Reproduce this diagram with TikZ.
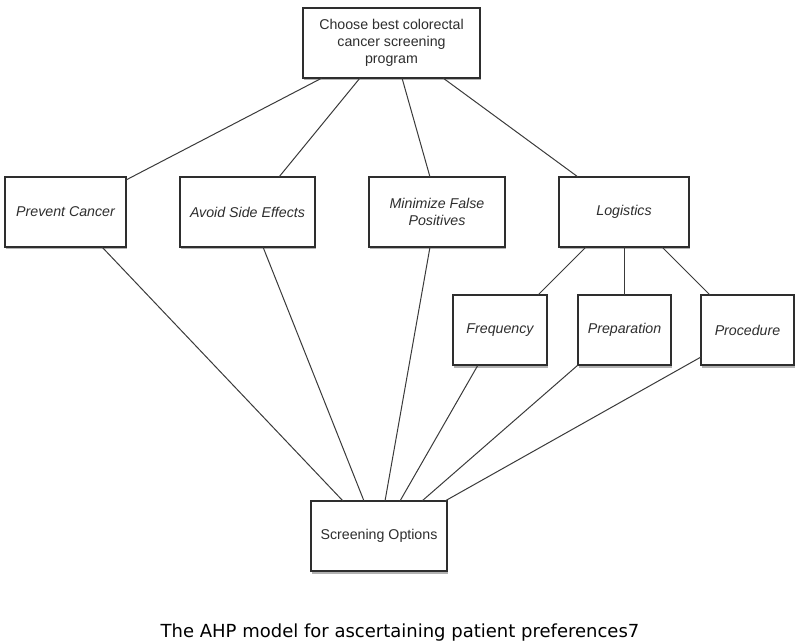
\documentclass[tikz,border=0pt]{standalone}
\usepackage{fontspec}
\setmainfont{Liberation Sans}
\newfontfamily\capfont{DejaVu Sans}
\usetikzlibrary{shadows}
\definecolor{ink}{HTML}{2E2E2E}
\definecolor{edge}{HTML}{3A3A3A}
\tikzset{
  box/.style={draw=ink, fill=white, line width=1.1pt, anchor=north west,
    inner sep=0pt, outer sep=0pt, align=center, text=ink,
    font=\fontsize{14.2}{17}\selectfont,
    drop shadow={shadow xshift=1pt, shadow yshift=-2.5pt, fill=black!55, opacity=0.55}},
  ibox/.style={box, font=\fontsize{14.2}{17}\selectfont\itshape},
  link/.style={draw=edge, line width=1pt},
}
\begin{document}
\begin{tikzpicture}[x=1pt,y=-1pt]
\useasboundingbox (0,0) rectangle (800,644);
% nodes
\node[box, minimum width=177pt, minimum height=70pt] (top) at (303,8) {Choose best colorectal\\cancer screening\\program};
\node[ibox, minimum width=121pt, minimum height=70pt] (prevent) at (5,177) {Prevent Cancer};
\node[ibox, minimum width=135pt, minimum height=70pt] (avoid) at (180,177) {Avoid Side Effects};
\node[ibox, minimum width=136pt, minimum height=70pt] (minimize) at (369,177) {Minimize False\\Positives};
\node[ibox, minimum width=130pt, minimum height=70pt] (logistics) at (559,177) {Logistics};
\node[ibox, minimum width=94pt, minimum height=70pt] (frequency) at (453,295) {Frequency};
\node[ibox, minimum width=93pt, minimum height=70pt] (preparation) at (578,295) {Preparation};
\node[ibox, minimum width=93pt, minimum height=70pt] (procedure) at (701,295) {Procedure};
\node[box, minimum width=136pt, minimum height=70pt] (screening) at (311,501) {Screening Options};
% connectors from the goal
\draw[link] ([xshift=19pt]top.south west) -- ([yshift=-3pt]prevent.north east);
\draw[link] ([xshift=57pt]top.south west) -- ([xshift=99pt]avoid.north west);
\draw[link] ([xshift=99pt]top.south west) -- ([xshift=61pt]minimize.north west);
\draw[link] ([xshift=140pt]top.south west) -- ([xshift=19pt]logistics.north west);
% logistics sub-criteria
\draw[link] ([xshift=27pt]logistics.south west) -- ([xshift=85pt]frequency.north west);
\draw[link] ([xshift=65pt]logistics.south west) -- ([xshift=46pt]preparation.north west);
\draw[link] ([xshift=103pt]logistics.south west) -- ([xshift=9pt]procedure.north west);
% to screening options
\draw[link] ([xshift=97pt]prevent.south west) -- ([xshift=32pt]screening.north west);
\draw[link] ([xshift=83pt]avoid.south west) -- ([xshift=53pt]screening.north west);
\draw[link] ([xshift=61pt]minimize.south west) -- ([xshift=74pt]screening.north west);
\draw[link] ([xshift=25pt]frequency.south west) -- ([xshift=89pt]screening.north west);
\draw[link] (preparation.south west) -- ([xshift=111pt]screening.north west);
\draw[link] ([yshift=8pt]procedure.south west) -- ([xshift=134pt]screening.north west);
% caption
\node[font=\capfont\fontsize{18}{22}\selectfont, text=black, inner sep=0pt] (caption) at (400,633) {The AHP model for ascertaining patient preferences7};
\end{tikzpicture}
\end{document}
